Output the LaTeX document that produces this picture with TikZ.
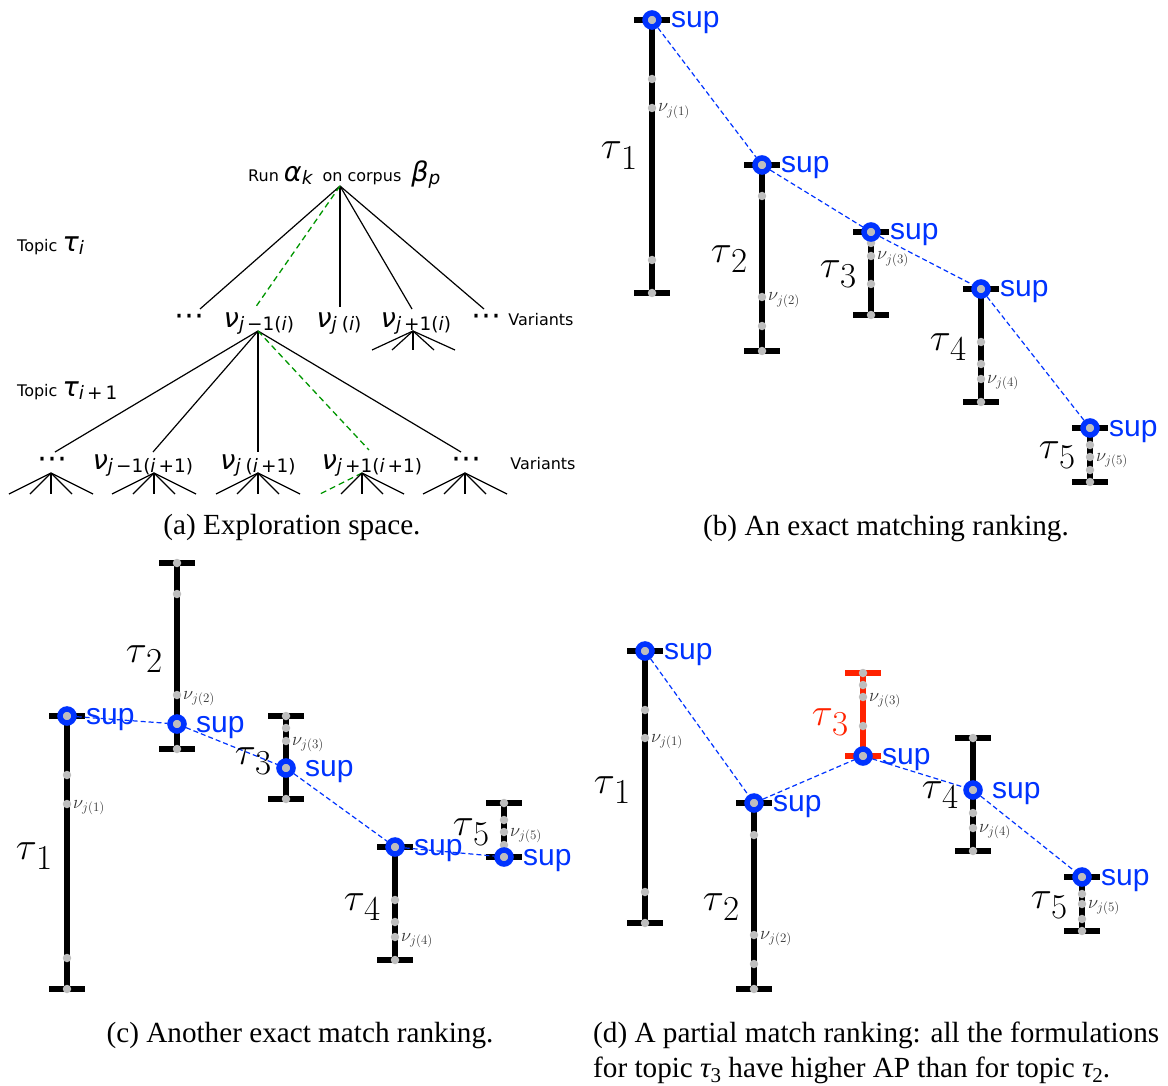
\RequirePackage{fix-cm}
\documentclass[tikz,border=0pt]{standalone}
\usepackage{fontspec}
\usetikzlibrary{calc}
\newfontfamily\dvs{DejaVu Sans}
\newfontfamily\lsans{Liberation Sans}
\newfontfamily\tnr{Liberation Serif}
\definecolor{supblue}{RGB}{0,51,255}
\definecolor{dotgray}{RGB}{190,190,190}
\definecolor{redbar}{RGB}{255,34,0}
\definecolor{dgreen}{RGB}{0,150,0}
\newcommand{\grk}[2]{{\fontsize{27}{27}\selectfont\itshape #1}\raisebox{-3pt}{\fontsize{18.5}{18.5}\selectfont #2}}
\newcommand{\taul}[1]{$\tau$\raisebox{-10.5pt}{\fontsize{35}{35}\selectfont #1}}
\newcommand{\captau}[1]{{\itshape τ}\raisebox{-5pt}{\fontsize{21}{21}\selectfont #1}}
\newcommand{\topicbar}[8]{%
  \coordinate (#1-1) at (#2,#3);
  \coordinate (#1-2) at (#2,#3+#4);
  \coordinate (#1-3) at (#2,#3+#5);
  \coordinate (#1-4) at (#2,#3+#6);
  \coordinate (#1-5) at (#2,#3+#7);
  \draw[barline,draw=#8] (#1-1) -- (#1-5);
  \draw[capline,draw=#8] ([xshift=-18pt]#1-1) -- ([xshift=18pt]#1-1);
  \draw[capline,draw=#8] ([xshift=-18pt]#1-5) -- ([xshift=18pt]#1-5);
  \foreach \k in {1,...,5}{\node[vdot] (#1-d\k) at (#1-\k) {};}
}
\begin{document}
\begin{tikzpicture}[x=1pt,y=-1pt,
  tree/.style={line width=1.2pt},
  greendash/.style={line width=1.3pt,draw=dgreen,dash pattern=on 6pt off 4pt},
  atext/.style={inner sep=0pt,font=\dvs\fontsize{16}{16}\selectfont},
  vtext/.style={inner sep=0pt,anchor=base,font=\dvs},
  cdots/.style={inner sep=0pt,anchor=base,font=\dvs\fontsize{30}{30}\selectfont},
  barline/.style={line width=6pt},
  capline/.style={line width=5.5pt},
  vdot/.style={circle,fill=dotgray,inner sep=0pt,minimum size=8.5pt},
  supring/.style={circle,draw=supblue,line width=5.5pt,fill=dotgray,inner sep=0pt,minimum size=14pt},
  supline/.style={line width=1.2pt,draw=supblue,dash pattern=on 5pt off 3pt},
  suplbl/.style={anchor=base west,inner sep=0pt,text=supblue,font=\lsans\fontsize{30}{30}\selectfont},
  nulbl/.style={anchor=base west,inner sep=0pt,text=black!80,font=\fontsize{18.5}{18.5}\selectfont},
  taulbl/.style={anchor=base east,inner sep=0pt,font=\fontsize{39}{39}\selectfont},
  caption/.style={anchor=base,inner sep=0pt,font=\tnr\fontsize{29.2}{29.2}\selectfont}]
\useasboundingbox (0,0) rectangle (1168,1086);

% ---------------- panel (a) ----------------
\node[atext,anchor=base west] (root) at (248,182) {Run \grk{α}{\itshape k}\hspace{5pt} on corpus\hspace{5pt} \grk{β}{\itshape p}};
\coordinate (r0) at (340,186);
\node[atext,anchor=base west] (topA) at (17,252) {Topic \grk{τ}{\itshape i}};
\node[atext,anchor=base west] (topB) at (17,396) {Topic \grk{τ}{{\itshape i}\,+\,1}};

\node[cdots] (n1a) at (189,326) {⋯};
\node[vtext] (n1b) at (259,327) {\grk{ν}{{\itshape j}\hspace{3pt}−1({\itshape i})}};
\node[vtext] (n1c) at (339,327) {\grk{ν}{{\itshape j}\hspace{5pt}({\itshape i})}};
\node[vtext] (n1d) at (416,327) {\grk{ν}{{\itshape j}\hspace{3pt}+1({\itshape i})}};
\node[cdots] (n1e) at (486,326) {⋯};
\node[atext,anchor=base] (var1) at (541,325) {Variants};

\coordinate (e1a) at (200,309);
\coordinate (e1b) at (255,308);
\coordinate (e1c) at (340,307);
\coordinate (e1d) at (412,309);
\coordinate (e1e) at (484,309);
\draw[tree] (r0) -- (e1a);
\draw[tree] (r0) -- (e1c);
\draw[tree] (r0) -- (e1d);
\draw[tree] (r0) -- (e1e);
\draw[greendash] (r0) -- (e1b);

\coordinate (a1) at (258,331);
\coordinate (a2) at (413,331);
\foreach \dx [count=\k] in {-41,-21,0,21,42}{
  \coordinate (f2-\k) at ($(a2)+(\dx,19)$);
  \draw[tree] (a2) -- (f2-\k);
}

\coordinate (e2a) at (55,452);
\coordinate (e2b) at (153,452);
\coordinate (e2c) at (258,452);
\coordinate (e2d) at (369,450);
\coordinate (e2e) at (461,452);
\draw[tree] (a1) -- (e2a);
\draw[tree] (a1) -- (e2b);
\draw[tree] (a1) -- (e2c);
\draw[tree] (a1) -- (e2e);
\draw[greendash] (a1) -- (e2d);

\node[cdots] (n2a) at (52,468) {⋯};
\node[vtext] (n2b) at (143,469) {\grk{ν}{{\itshape j}\hspace{3pt}−1({\itshape i}\,+1)}};
\node[vtext] (n2c) at (258,469) {\grk{ν}{{\itshape j}\hspace{5pt}({\itshape i}\,+1)}};
\node[vtext] (n2d) at (372,469) {\grk{ν}{{\itshape j}\hspace{3pt}+1({\itshape i}\,+1)}};
\node[cdots] (n2e) at (466,468) {⋯};
\node[atext,anchor=base] (var2) at (543,469) {Variants};

\foreach \cx [count=\m] in {51,154,258,362,465}{
  \coordinate (g\m) at (\cx,473);
  \foreach \dx [count=\k] in {-42,-21,0,21,42}{
    \coordinate (g\m-\k) at ($(g\m)+(\dx,21)$);
  }
}
\foreach \m in {1,...,5}{
  \foreach \k in {1,...,5}{
    \ifnum\m\k=41 \draw[greendash] (g\m) -- (g\m-\k);
    \else \draw[tree] (g\m) -- (g\m-\k); \fi
  }
}

% ---------------- panel (b) ----------------
\topicbar{b1}{652}{20}{59}{88}{240}{273}{black}
\topicbar{b2}{762}{165}{31}{132}{161}{186}{black}
\topicbar{b3}{871}{232}{11}{24}{52}{83}{black}
\topicbar{b4}{981}{289}{53}{75}{90}{113}{black}
\topicbar{b5}{1090}{428}{17}{29}{42}{54}{black}
\node[supring] (b1s) at (b1-1) {};
\node[supring] (b2s) at (b2-1) {};
\node[supring] (b3s) at (b3-1) {};
\node[supring] (b4s) at (b4-1) {};
\node[supring] (b5s) at (b5-1) {};
\draw[supline] (b1s) -- (b2s) -- (b3s) -- (b4s) -- (b5s);
\foreach \p in {b1s,b2s,b3s,b4s,b5s}{\node[suplbl] (\p-l) at ($(\p.center)+(19,8)$) {sup};}
\node[nulbl] (b1n) at ($(b1-3)+(6,4)$) {$\nu_{j(1)}$};
\node[nulbl] (b2n) at ($(b2-3)+(6,4)$) {$\nu_{j(2)}$};
\node[nulbl] (b3n) at ($(b3-3)+(6,4)$) {$\nu_{j(3)}$};
\node[nulbl] (b4n) at ($(b4-4)+(6,4)$) {$\nu_{j(4)}$};
\node[nulbl] (b5n) at ($(b5-3)+(6,4)$) {$\nu_{j(5)}$};
\node[taulbl] (b1t) at (638,159) {\taul{1}};
\node[taulbl] (b2t) at (748,262) {\taul{2}};
\node[taulbl] (b3t) at (857,277) {\taul{3}};
\node[taulbl] (b4t) at (967,350) {\taul{4}};
\node[taulbl] (b5t) at (1076,458) {\taul{5}};

% ---------------- panel (c) ----------------
\topicbar{c1}{67}{716}{59}{88}{242}{273}{black}
\topicbar{c2}{177}{563}{31}{132}{161}{186}{black}
\topicbar{c3}{286}{716}{12}{25}{52}{83}{black}
\topicbar{c4}{395}{847}{53}{75}{90}{113}{black}
\topicbar{c5}{504}{803}{17}{29}{42}{54}{black}
\node[supring] (c1s) at (c1-1) {};
\node[supring] (c2s) at (c2-4) {};
\node[supring] (c3s) at (c3-4) {};
\node[supring] (c4s) at (c4-1) {};
\node[supring] (c5s) at (c5-5) {};
\draw[supline] (c1s) -- (c2s) -- (c3s) -- (c4s) -- (c5s);
\foreach \p in {c1s,c2s,c3s,c4s,c5s}{\node[suplbl] (\p-l) at ($(\p.center)+(19,8)$) {sup};}
\node[nulbl] (c1n) at ($(c1-3)+(6,4)$) {$\nu_{j(1)}$};
\node[nulbl] (c2n) at ($(c2-3)+(6,4)$) {$\nu_{j(2)}$};
\node[nulbl] (c3n) at ($(c3-3)+(6,4)$) {$\nu_{j(3)}$};
\node[nulbl] (c4n) at ($(c4-4)+(6,4)$) {$\nu_{j(4)}$};
\node[nulbl] (c5n) at ($(c5-3)+(6,4)$) {$\nu_{j(5)}$};
\node[taulbl] (c1t) at (53,859) {\taul{1}};
\node[taulbl] (c2t) at (163,662) {\taul{2}};
\node[taulbl] (c3t) at (272,764) {\taul{3}};
\node[taulbl] (c4t) at (381,910) {\taul{4}};
\node[taulbl] (c5t) at (490,835) {\taul{5}};

% ---------------- panel (d) ----------------
\topicbar{d1}{645}{651}{59}{87}{241}{272}{black}
\topicbar{d2}{754}{803}{32}{132}{161}{186}{black}
\topicbar{d3}{863}{673}{12}{24}{53}{83}{redbar}
\topicbar{d4}{973}{738}{52}{75}{90}{113}{black}
\topicbar{d5}{1082}{877}{17}{27}{42}{54}{black}
\node[supring] (d1s) at (d1-1) {};
\node[supring] (d2s) at (d2-1) {};
\node[supring] (d3s) at (d3-5) {};
\node[supring] (d4s) at (d4-2) {};
\node[supring] (d5s) at (d5-1) {};
\draw[supline] (d1s) -- (d2s) -- (d3s) -- (d4s) -- (d5s);
\foreach \p in {d1s,d2s,d3s,d4s,d5s}{\node[suplbl] (\p-l) at ($(\p.center)+(19,8)$) {sup};}
\node[nulbl] (d1n) at ($(d1-3)+(6,4)$) {$\nu_{j(1)}$};
\node[nulbl] (d2n) at ($(d2-3)+(6,4)$) {$\nu_{j(2)}$};
\node[nulbl] (d3n) at ($(d3-3)+(6,4)$) {$\nu_{j(3)}$};
\node[nulbl] (d4n) at ($(d4-4)+(6,4)$) {$\nu_{j(4)}$};
\node[nulbl] (d5n) at ($(d5-3)+(6,4)$) {$\nu_{j(5)}$};
\node[taulbl] (d1t) at (631,793) {\taul{1}};
\node[taulbl] (d2t) at (740,910) {\taul{2}};
\node[taulbl,text=redbar] (d3t) at (849,725) {\taul{3}};
\node[taulbl] (d4t) at (959,798) {\taul{4}};
\node[taulbl] (d5t) at (1068,908) {\taul{5}};

% ---------------- captions ----------------
\node[caption] (capa) at (292,534) {(a) Exploration space.};
\node[caption] (capb) at (886,535) {(b) An exact matching ranking.};
\node[caption] (capc) at (300,1042) {(c) Another exact match ranking.};
\node[caption,anchor=base west] (capd1) at (593,1042) {(d) A partial match ranking: all the formulations};
\node[caption,anchor=base west] (capd2) at (593,1077) {for topic \captau{3} have higher AP than for topic \captau{2}.};
\end{tikzpicture}
\end{document}
